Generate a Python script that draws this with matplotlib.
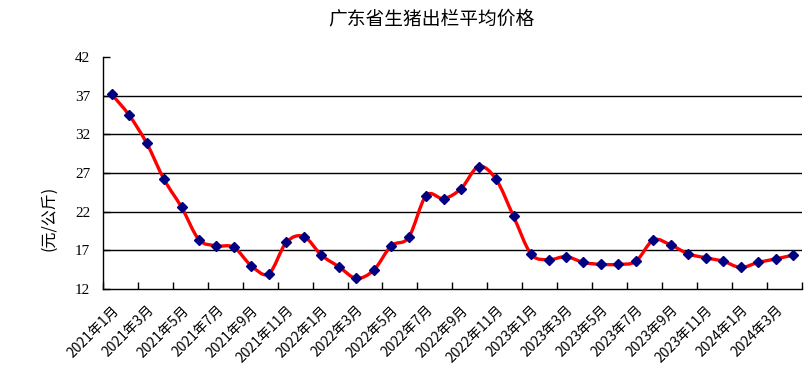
import numpy as np
import matplotlib
matplotlib.use("Agg")
import matplotlib.pyplot as plt
from matplotlib.path import Path
from matplotlib.patches import PathPatch

plt.rcParams['font.family'] = ['Noto Sans CJK SC', 'DejaVu Sans']

# 月份 2021年1月 .. 2024年4月
months = [f"{y}年{m}月" for y in (2021, 2022, 2023) for m in range(1, 13)] + \
         [f"2024年{m}月" for m in range(1, 5)]
price = [37.2, 34.5, 30.9, 26.2, 22.6, 18.4, 17.6, 17.4, 15.0, 14.0, 18.05, 18.8,
         16.4, 14.9, 13.4, 14.45, 17.6, 18.7, 24.1, 23.7, 25.0, 27.85, 26.2, 21.4,
         16.55, 15.8, 16.2, 15.45, 15.2, 15.2, 15.6, 18.35, 17.7, 16.55, 16.05, 15.6,
         14.8, 15.45, 15.9, 16.4]
yticks = [12, 17, 22, 27, 32, 37, 42]

x = np.arange(len(price))
y = np.array(price)

fig = plt.figure(figsize=(8.1, 3.86), dpi=100)
ax = fig.add_axes([0.127, 0.251, 0.863, 0.601])

# smooth line like the spreadsheet's (cubic Bezier, Catmull-Rom control points)
pts = np.column_stack([x, y]).astype(float)
verts = [pts[0]]
codes = [Path.MOVETO]
n = len(pts)
for i in range(n - 1):
    p0 = pts[i - 1] if i > 0 else pts[i]
    p3 = pts[i + 2] if i + 2 < n else pts[i + 1]
    c1 = pts[i] + (pts[i + 1] - p0) / 6
    c2 = pts[i + 1] - (p3 - pts[i]) / 6
    verts += [c1, c2, pts[i + 1]]
    codes += [Path.CURVE4] * 3
ax.add_patch(PathPatch(Path(verts, codes), facecolor='none', edgecolor='#ff0000',
                       lw=2.4, zorder=3))
ax.plot(x, y, ls='none', marker='D', ms=5.5, color='#000080', zorder=4)

ax.set_xlim(-0.5, n - 0.5)
ax.set_ylim(12, 42)
ax.set_yticks(yticks)
ax.set_yticklabels([str(v) for v in yticks], family='Liberation Serif', fontsize=11)
for v in yticks[1:-1]:
    ax.axhline(v, color='black', lw=1, zorder=1)

ax.set_xticks(np.arange(-0.5, n, 2))
ax.set_xticklabels([])
ax.set_xticks(x[::2], minor=True)
ax.set_xticklabels(months[::2], minor=True, rotation=45, ha='right', va='top',
                   rotation_mode='anchor', fontsize=10)
ax.tick_params(axis='x', which='major', direction='in', length=5, width=1)
ax.tick_params(axis='x', which='minor', length=0, pad=10)
ax.tick_params(axis='y', direction='in', length=5, width=1, pad=9)

for s in ('top', 'right'):
    ax.spines[s].set_visible(False)
for s in ('left', 'bottom'):
    ax.spines[s].set_linewidth(1)

fig.text(0.533, 0.952, '广东省生猪出栏平均价格', ha='center', va='center', fontsize=13.5)
fig.text(0.06, 0.435, '(元/公斤)', rotation=90, ha='center', va='center', fontsize=11.5)

fig.savefig('out.png', dpi=100)
